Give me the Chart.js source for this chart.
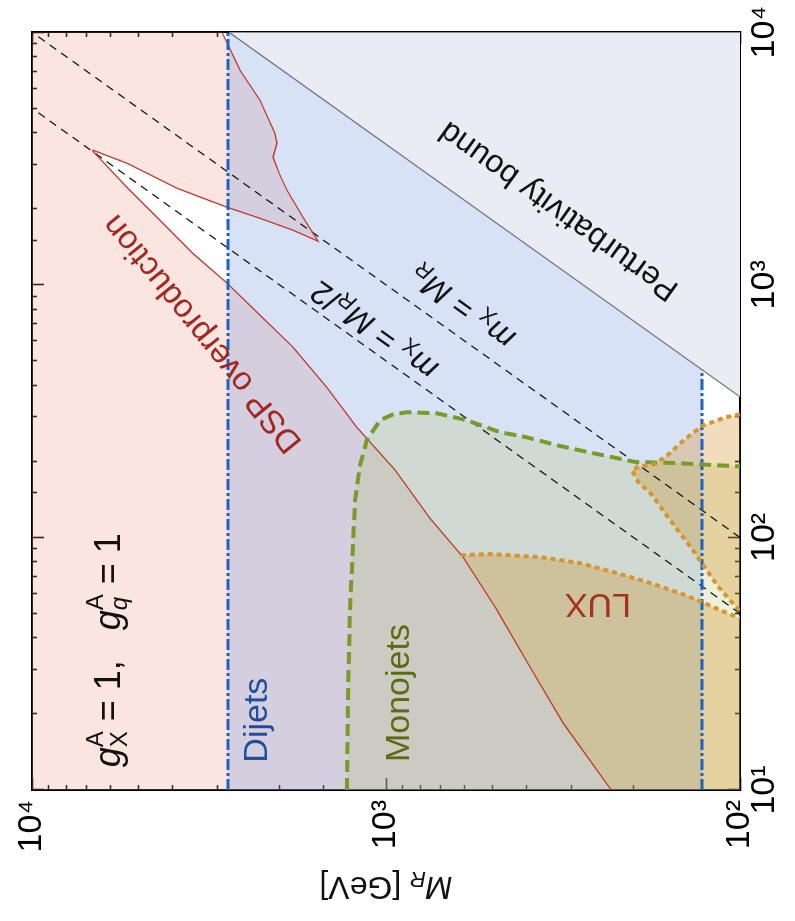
<!DOCTYPE html>
<html><head><meta charset="utf-8">
<script src="https://cdn.jsdelivr.net/npm/chart.js@4.4.1/dist/chart.umd.min.js"></script>
<style>
html,body{margin:0;padding:0;background:#fff;overflow:hidden;width:795px;height:921px;}
#wrap{position:absolute;left:0;top:0;width:921px;height:795px;transform-origin:0 0;transform:translate(0px,921px) rotate(-90deg);}
canvas{display:block;}
</style></head><body>
<div id="wrap"><canvas id="c" width="921" height="795"></canvas></div>
<script>
// ---------- data (x = m_X [GeV], y = M_R [GeV]) ----------
const mxRange = [10, 10000];
const mrRange = [100, 10000];
const majorTicks = [10, 100, 1000, 10000];
const majorTickLabels = ['10\u00B9', '10\u00B2', '10\u00B3', '10\u2074'];

// DSP overproduction contour (red)
const dspUpperContour = [[10000,2906],[7067,2584],[5378,2269],[3981,2059],[3635,2032],[3198,2085],[2715,1993],[2368,1904],[1851,1716],[1488,1556],[1645,1831],[1834,2269],[2028,2813],[2412,3894],[3029,5390],[3410,6725]];
const dspLowerContour = [[3380,6730],[2430,5390],[1800,4350],[1330,3510],[1015,2810],[758,2270],[566,1830],[393,1470],[273,1210],[185,943],[119,751],[83.6,606],[51.6,486],[30.7,392],[18.4,316],[10,231]];
// Dijets excluded region
const dijetsBox = [[10,2795],[10000,2795],[10000,2778],[461,128],[10,128]];
const dijetsLowEdge = [[10,2795],[10000,2795]];
const dijetsHighEdge = [[10,128],[461,128]];
// Perturbativity bound
const perturbBound = [[360,100],[10000,2778]];
const perturbCorner = [10000,100];
// Monojets boundary
const monojetsEdge = [[10,1289],[22.7,1281],[51.6,1264],[140,1223],[193,1184],[243,1132],[291,1040],[307,955],[313,872],[310,718],[291,591],[261,476],[249,400],[230,322],[216,262],[199,198],[197,153],[191,100]];
const monojetsCorner = [10,100];
// LUX boundaries
const luxMain = [[85,615],[85.9,508],[83.6,367],[79.1,283],[72.9,228],[66.6,183],[60.2,148],[55.5,128],[51.6,114],[47.9,100]];
const luxUpper = [[307,100],[299,110],[276,128],[243,144],[212,160],[195,174],[191,192],[185,202],[166,194],[147,177],[125,163],[107,150],[86.7,134],[76.3,126],[63.6,115],[55,105],[51.1,100]];
// reference lines
const lineMxEqMr = [[100,100],[10000,10000]];
const lineMxHalfMr = [[50,100],[5000,10000]];

// ---------- helpers ----------
const FONT = '"Liberation Sans", Arial, Helvetica, sans-serif';
const pts = a => a.map(p => ({x: p[0], y: p[1]}));
const isPow10 = v => { const e = Math.log10(v); return Math.abs(e - Math.round(e)) < 1e-6; };
const tickLabel = v => { const i = majorTicks.findIndex(t => Math.abs(v - t) / t < 1e-6); return i >= 0 ? majorTickLabels[i] : ''; };

const pinkPoly = [[mxRange[1], mrRange[1]]].concat(dspUpperContour, dspLowerContour, [[mxRange[0], mrRange[1]]]);
const perturbPoly = perturbBound.concat([perturbCorner]);
const monoPoly = monojetsEdge.concat([monojetsCorner]);
const luxMainPoly = luxMain.concat([[mxRange[0], mrRange[0]]], dspLowerContour.filter(p => p[0] < luxMain[0][0]).reverse());

function fillSet(data, color, order) {
  return {data: pts(data), fill: 'shape', backgroundColor: color, borderWidth: 0, pointRadius: 0, order: order, showLine: true};
}
function lineSet(data, color, width, dash, order) {
  return {data: pts(data), fill: false, borderColor: color, borderWidth: width, borderDash: dash, borderCapStyle: 'butt', pointRadius: 0, order: order, showLine: true};
}

function drawRich(ctx, parts, x, y, angleDeg, align, color) {
  ctx.save();
  ctx.translate(x, y);
  ctx.rotate(angleDeg * Math.PI / 180);
  ctx.textBaseline = 'middle';
  ctx.textAlign = 'left';
  let cx = 0, prevStart = 0, prevW = 0;
  const items = [];
  for (const p of parts) {
    ctx.font = (p.italic ? 'italic ' : '') + p.size + 'px ' + FONT;
    const w = ctx.measureText(p.t).width;
    let px;
    if (p.stack) { px = prevStart; const adv = Math.max(prevW, w); cx = prevStart + adv; prevW = adv; }
    else { px = cx; prevStart = cx; prevW = w; cx += w; }
    items.push({p, px});
  }
  const off = align === 'center' ? -cx / 2 : (align === 'right' ? -cx : 0);
  for (const {p, px} of items) {
    ctx.font = (p.italic ? 'italic ' : '') + p.size + 'px ' + FONT;
    ctx.fillStyle = p.color || color;
    ctx.fillText(p.t, off + px, p.dy || 0);
  }
  ctx.restore();
}

const textPlugin = {
  id: 'texts',
  afterDatasetsDraw(chart) {
    const ctx = chart.ctx, sx = chart.scales.x, sy = chart.scales.y;
    const P = (mx, mr) => [sx.getPixelForValue(mx), sy.getPixelForValue(mr)];
    const ang = (a) => { const p1 = P(a[0][0], a[0][1]), p2 = P(a[1][0], a[1][1]); return Math.atan2(p2[1] - p1[1], p2[0] - p1[0]) * 180 / Math.PI; };
    const diagAng = ang(lineMxEqMr);
    let p;
    p = P(12.3, 6022);
    drawRich(ctx, [
      {t:'g', size:36, italic:true}, {t:'X', size:24, dy:10}, {t:'A', size:24, dy:-14, stack:true},
      {t:' = 1,   ', size:36},
      {t:'g', size:36, italic:true}, {t:'q', size:24, italic:true, dy:10}, {t:'A', size:24, dy:-14, stack:true},
      {t:' = 1', size:36}
    ], p[0], p[1], 0, 'left', '#111');
    p = P(18.9, 2299);
    drawRich(ctx, [{t:'Dijets', size:34}], p[0], p[1], 0, 'center', '#1d4f9e');
    p = P(24.2, 913);
    drawRich(ctx, [{t:'Monojets', size:34}], p[0], p[1], 0, 'center', '#5b6b14');
    p = P(55, 252);
    drawRich(ctx, [{t:'LUX', size:34}], p[0], p[1], -90, 'center', '#a5331c');
    p = P(643, 3290);
    drawRich(ctx, [{t:'DSP overproduction', size:33}], p[0], p[1], -39, 'center', '#a3261f');
    p = P(1973, 324);
    drawRich(ctx, [{t:'Perturbativity bound', size:32}], p[0], p[1], ang(perturbBound), 'center', '#111');
    p = P(823, 606);
    drawRich(ctx, [{t:'m', size:32, italic:true}, {t:'X', size:22, dy:8}, {t:' = ', size:32}, {t:'M', size:32, italic:true}, {t:'R', size:22, italic:true, dy:8}], p[0], p[1], diagAng, 'center', '#111');
    p = P(667, 1074);
    drawRich(ctx, [{t:'m', size:32, italic:true}, {t:'X', size:22, dy:8}, {t:' = ', size:32}, {t:'M', size:32, italic:true}, {t:'R', size:22, italic:true, dy:8}, {t:'/2', size:32}], p[0], p[1], diagAng, 'center', '#111');
  },
  afterDraw(chart) {
    const ctx = chart.ctx, sy = chart.scales.y;
    drawRich(ctx, [{t:'M', size:32, italic:true}, {t:'R', size:22, italic:true, dy:8}, {t:' [GeV]', size:32}], sy.left + 35, (sy.top + sy.bottom) / 2, -90, 'center', '#111');
  }
};

function gridOpts(startAtBorder) {
  return {
    drawOnChartArea: false, drawTicks: true, tickLength: -12, tickWidth: 1.6, tickColor: '#000',
    tickBorderDash: c => (c.tick && isPow10(c.tick.value)) ? [] : (startAtBorder ? [6, 100] : [0, 7, 6, 100])
  };
}
const borderOpts = {display: true, color: '#000', width: 2};

new Chart(document.getElementById('c'), {
  type: 'line',
  data: {
    datasets: [
      fillSet(perturbPoly, '#eaebf3', 100),
      fillSet(pinkPoly, 'rgba(235,150,130,0.25)', 90),
      fillSet(dijetsBox, 'rgba(100,140,220,0.25)', 80),
      fillSet(monoPoly, 'rgba(175,190,90,0.22)', 70),
      fillSet(luxMainPoly, 'rgba(210,140,30,0.3)', 60),
      fillSet(luxUpper, 'rgba(210,140,30,0.3)', 59),
      lineSet(lineMxEqMr, '#1a1a1a', 1.3, [8, 6], 50),
      lineSet(lineMxHalfMr, '#1a1a1a', 1.3, [8, 6], 49),
      lineSet(perturbBound, '#6f7380', 1.2, [], 45),
      lineSet(dspUpperContour.concat(dspLowerContour), '#c0392b', 1.3, [], 40),
      lineSet(dijetsLowEdge, '#1f62c0', 3, [11, 3, 3, 3], 30),
      lineSet(dijetsHighEdge, '#1f62c0', 3, [11, 3, 3, 3], 29),
      lineSet(monojetsEdge, '#7a9a2a', 4, [12, 6], 20),
      lineSet(luxMain, '#d8952b', 4, [5, 4], 10),
      lineSet(luxUpper, '#d8952b', 4, [5, 4], 9)
    ]
  },
  options: {
    responsive: false, animation: false, events: [],
    layout: {padding: {top: 32, right: 32, bottom: 0, left: 0}},
    elements: {point: {radius: 0}, line: {tension: 0}},
    plugins: {legend: {display: false}, tooltip: {enabled: false}},
    scales: {
      x: {type: 'logarithmic', position: 'bottom', min: mxRange[0], max: mxRange[1],
          afterFit: s => { s.height = 55; },
          border: borderOpts, grid: gridOpts(true),
          ticks: {autoSkip: false, minRotation: 0, maxRotation: 0, padding: 6, color: '#000',
                  font: {family: FONT, size: 34, lineHeight: 1.8}, callback: v => tickLabel(v)}},
      y: {type: 'logarithmic', position: 'left', min: mrRange[0], max: mrRange[1],
          afterFit: s => { s.width = 131; },
          border: borderOpts, grid: gridOpts(false),
          ticks: {autoSkip: false, padding: 22, color: '#000',
                  font: {family: FONT, size: 34, lineHeight: 0.5}, callback: v => tickLabel(v)}},
      x2: {type: 'logarithmic', axis: 'x', position: 'top', min: mxRange[0], max: mxRange[1],
          afterFit: s => { s.height = 0; },
          border: borderOpts, grid: gridOpts(false), ticks: {display: false, autoSkip: false}},
      y2: {type: 'logarithmic', axis: 'y', position: 'right', min: mrRange[0], max: mrRange[1],
          afterFit: s => { s.width = 0; },
          border: borderOpts, grid: gridOpts(true), ticks: {display: false, autoSkip: false}}
    }
  },
  plugins: [textPlugin]
});
</script>
</body></html>
